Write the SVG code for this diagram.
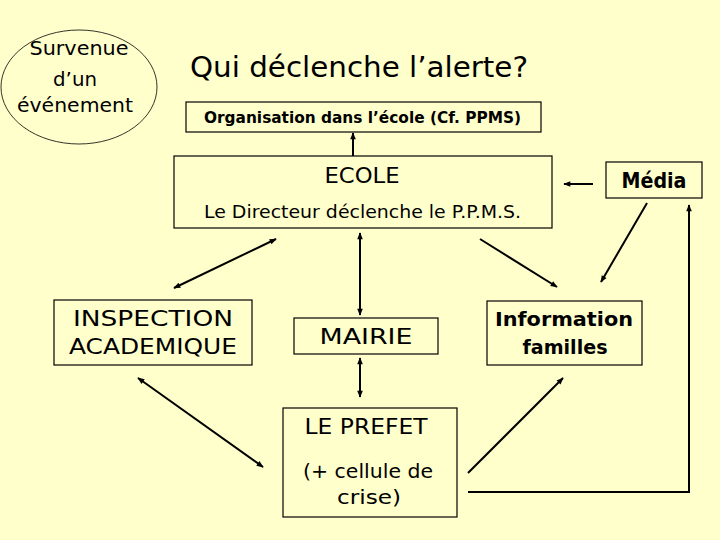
<svg xmlns="http://www.w3.org/2000/svg" width="720" height="540" viewBox="0 0 720 540">
<defs>
<style>
.bg{fill:#FFFFCC}
.box{fill:#FFFFCC;stroke:#000;stroke-width:1.2}
.t{font-family:"DejaVu Sans","Liberation Sans",sans-serif;fill:#000;text-anchor:middle}
.b{font-family:"DejaVu Sans","Liberation Sans",sans-serif;font-weight:bold;fill:#000;text-anchor:middle}
.c{fill:none;stroke:#000;stroke-width:2}
</style>
<marker id="ah" viewBox="0 0 10 10" refX="9" refY="5" markerWidth="9" markerHeight="7" markerUnits="userSpaceOnUse" orient="auto-start-reverse">
<path d="M0,1 L10,5 L0,9 z" fill="#000"/>
</marker>
</defs>
<rect class="bg" x="0" y="0" width="720" height="540"/>

<g id="survenue">
<ellipse cx="79" cy="87" rx="78" ry="57" fill="#FFFFCC" stroke="#000" stroke-width="0.8"/>
<text class="t" x="79" y="55" font-size="19" textLength="99" lengthAdjust="spacingAndGlyphs">Survenue</text>
<text class="t" x="75" y="86" font-size="19" textLength="44" lengthAdjust="spacingAndGlyphs">d’un</text>
<text class="t" x="75" y="112" font-size="19" textLength="116" lengthAdjust="spacingAndGlyphs">événement</text>
</g>

<g id="titre">
<text class="t" x="359" y="77" font-size="29" textLength="338" lengthAdjust="spacingAndGlyphs">Qui déclenche l’alerte?</text>
</g>

<g id="organisation">
<rect class="box" x="186" y="102" width="355" height="30"/>
<text class="b" x="362.5" y="123" font-size="16" textLength="317" lengthAdjust="spacingAndGlyphs">Organisation dans l’école (Cf. PPMS)</text>
</g>

<g id="ecole">
<rect class="box" x="174" y="156" width="378" height="72"/>
<text class="t" x="362" y="183" font-size="22" textLength="75" lengthAdjust="spacingAndGlyphs">ECOLE</text>
<text class="t" x="362.5" y="218" font-size="18.5" textLength="317" lengthAdjust="spacingAndGlyphs">Le Directeur déclenche le P.P.M.S.</text>
</g>

<g id="media">
<rect class="box" x="606" y="162" width="96" height="36"/>
<text class="b" x="654" y="188" font-size="21" textLength="65" lengthAdjust="spacingAndGlyphs">Média</text>
</g>

<g id="inspection">
<rect class="box" x="54" y="300" width="198" height="65"/>
<text class="t" x="153" y="326" font-size="22" textLength="160" lengthAdjust="spacingAndGlyphs">INSPECTION</text>
<text class="t" x="153" y="354" font-size="22" textLength="168" lengthAdjust="spacingAndGlyphs">ACADEMIQUE</text>
</g>

<g id="mairie">
<rect class="box" x="294" y="318" width="144" height="36"/>
<text class="t" x="366" y="344" font-size="22" textLength="93" lengthAdjust="spacingAndGlyphs">MAIRIE</text>
</g>

<g id="information">
<rect class="box" x="487" y="301" width="155" height="64"/>
<text class="b" x="564" y="326" font-size="20" textLength="138" lengthAdjust="spacingAndGlyphs">Information</text>
<text class="b" x="565" y="354" font-size="20" textLength="85" lengthAdjust="spacingAndGlyphs">familles</text>
</g>

<g id="prefet">
<rect class="box" x="283" y="408" width="174" height="109"/>
<text class="t" x="366" y="434" font-size="22" textLength="123" lengthAdjust="spacingAndGlyphs">LE PREFET</text>
<text class="t" x="368" y="478" font-size="20" textLength="130" lengthAdjust="spacingAndGlyphs">(+ cellule de</text>
<text class="t" x="369" y="504" font-size="20" textLength="64" lengthAdjust="spacingAndGlyphs">crise)</text>
</g>

<g id="connecteurs">
<line class="c" x1="353" y1="156" x2="353" y2="133" marker-end="url(#ah)"/>
<line class="c" x1="593" y1="184" x2="564" y2="184" marker-end="url(#ah)"/>
<line class="c" x1="276" y1="239" x2="174" y2="288" marker-start="url(#ah)" marker-end="url(#ah)"/>
<line class="c" x1="360" y1="233" x2="360" y2="315" marker-start="url(#ah)" marker-end="url(#ah)"/>
<line class="c" x1="360" y1="358" x2="360" y2="397" marker-start="url(#ah)" marker-end="url(#ah)"/>
<line class="c" x1="480" y1="239" x2="557" y2="287" marker-end="url(#ah)"/>
<line class="c" x1="647" y1="203" x2="601" y2="282" marker-end="url(#ah)"/>
<line class="c" x1="468" y1="473" x2="563" y2="378" marker-end="url(#ah)"/>
<line class="c" x1="138" y1="378" x2="263" y2="467" marker-start="url(#ah)" marker-end="url(#ah)"/>
<polyline class="c" points="468,492 689,492 689,205" marker-end="url(#ah)"/>
</g>
</svg>
